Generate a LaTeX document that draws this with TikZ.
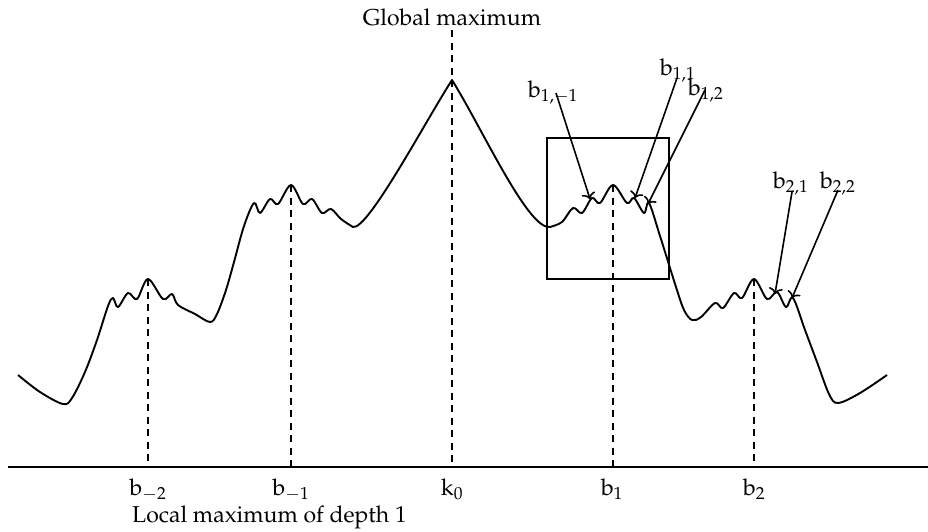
\documentclass[tikz,border=0pt]{standalone}
\usepackage[T1]{fontenc}
\usepackage{mathpazo}
\usetikzlibrary{arrows.meta}
\begin{document}
\begin{tikzpicture}[x=1pt,y=-1pt,
  lbl/.style={inner sep=0pt,font=\fontsize{23}{27}\selectfont},
  curve/.style={line width=1.9pt,line join=round},
  guide/.style={line width=1.8pt,dash pattern=on 7pt off 5.5pt},
  pointer/.style={line width=1.6pt,-{To[length=6pt,width=14pt]}},
  frame/.style={line width=1.8pt}]
\useasboundingbox (0,0) rectangle (928,531);
\begin{scope}
\clip (0,0) rectangle (928,531);
% axis
\coordinate (ax0) at (8,467);
\coordinate (ax1) at (940,467);
\draw[line width=2.2pt,-{Stealth[length=10pt,width=9pt]}] (ax0) -- (ax1);
\end{scope}
% curve
\draw[curve] plot[smooth,tension=0.55] coordinates {
(18,375) (40,392) (63,404) (72,398) (85,372) (97,340) (108,306) (113,298) (118,307)
(128,293) (137,299) (148,279) (163,299) (172,294) (178,305) (195,314) (210,322)
(217,314) (226,290) (234,262) (244,226) (254,203) (260,213) (270,199) (278,204)
(291,185) (303,204) (312,199) (322,213) (331,209) (341,219) (353,227)}
 .. controls (368,230) and (425,122) .. (452,80)
 .. controls (482,128) and (528,230) .. (550,227)
 plot[smooth,tension=0.55] coordinates {
(550,227) (562,222) (573,208)
(582,213) (592,198) (600,203) (613,185) (627,203) (634,198) (644,213) (649,203)
(660,236) (676,287) (684,310) (692,320) (701,317) (715,303) (723,308) (734,293)
(742,298) (754,279) (767,299) (777,292) (786,307) (793,298) (805,330) (817,362)
(829,394) (838,403) (860,393) (887,375)};
% box
\node[frame,draw,minimum width=122pt,minimum height=141pt,inner sep=0pt] (box) at (608,208.5) {};
% labels on axis
\node[lbl,anchor=base] (lbm2) at (148,495) {b$_{-2}$};
\node[lbl,anchor=base] (lbm1) at (291,495) {b$_{-1}$};
\node[lbl,anchor=base] (lk0) at (452,495) {k$_{0}$};
\node[lbl,anchor=base] (lb1) at (612,495) {b$_{1}$};
\node[lbl,anchor=base] (lb2) at (754,495) {b$_{2}$};
\node[lbl,anchor=base west] (local) at (132,522) {Local maximum of depth 1};
\node[lbl,anchor=base] (glob) at (452,25) {Global maximum};
% dashed guides
\coordinate (pm2) at (148,279);
\coordinate (pm1) at (291,185);
\coordinate (pk0) at (452,30);
\coordinate (p1) at (613,185);
\coordinate (p2) at (754,279);
\draw[guide] (pm2) -- (pm2 |- ax0);
\draw[guide] (pm1) -- (pm1 |- ax0);
\draw[guide] (pk0) -- (pk0 |- ax0);
\draw[guide] (p1) -- (p1 |- ax0);
\draw[guide] (p2) -- (p2 |- ax0);
% sub-maxima labels
\node[lbl,anchor=base west] (l1m1) at (528,97) {b$_{1,-1}$};
\node[lbl,anchor=base west] (l11) at (660,75) {b$_{1,1}$};
\node[lbl,anchor=base west] (l12) at (688,95) {b$_{1,2}$};
\node[lbl,anchor=base west] (l21) at (773,188) {b$_{2,1}$};
\node[lbl,anchor=base west] (l22) at (820,188) {b$_{2,2}$};
\coordinate (s1m1) at (556,93);
\coordinate (s11) at (677,78);
\coordinate (s12) at (705,90);
\coordinate (s21) at (792,192);
\coordinate (s22) at (838,190);
\coordinate (t1m1) at (590,199);
\coordinate (t11) at (635,198);
\coordinate (t12) at (648,204);
\coordinate (t21) at (775,294);
\coordinate (t22) at (792,298);
\draw[pointer] (s1m1) -- (t1m1);
\draw[pointer] (s11) -- (t11);
\draw[pointer] (s12) -- (t12);
\draw[pointer] (s21) -- (t21);
\draw[pointer] (s22) -- (t22);
\end{tikzpicture}
\end{document}
